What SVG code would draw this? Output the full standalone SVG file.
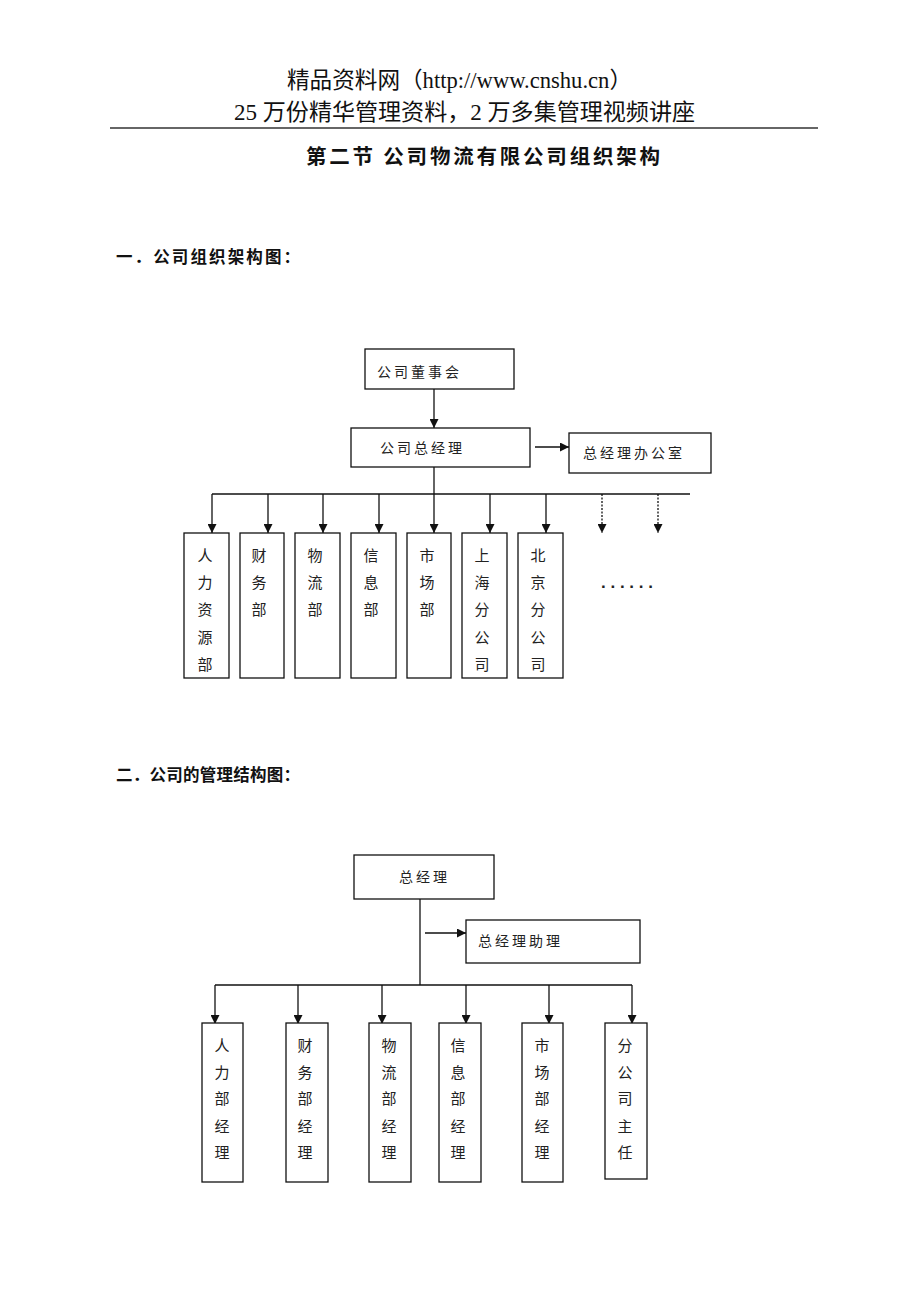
<svg xmlns="http://www.w3.org/2000/svg" width="920" height="1302" viewBox="0 0 920 1302">
<style>
.hdr{font-family:"Liberation Serif","Noto Sans CJK SC",serif;font-size:22.5px;fill:#111;}
.ttl{font-family:"Noto Sans CJK SC",sans-serif;font-size:20.5px;font-weight:bold;fill:#111;}
.sec{font-family:"Noto Sans CJK SC",sans-serif;font-size:16.5px;font-weight:bold;fill:#111;}
.box{fill:#fff;stroke:#111;stroke-width:1.3;}
.lbl{font-family:"Noto Sans CJK SC",sans-serif;font-size:14px;fill:#222;letter-spacing:3px;}
.vt{font-family:"Noto Sans CJK SC",sans-serif;font-size:15px;fill:#222;text-anchor:middle;}
.ln{stroke:#111;stroke-width:1.3;fill:none;}
.ar{stroke:#111;stroke-width:1.3;fill:none;marker-end:url(#ah);}
.dt{stroke:#111;stroke-width:1.3;fill:none;stroke-dasharray:2,1.5;marker-end:url(#ah);}
</style>
<defs>
<marker id="ah" viewBox="0 0 10 10" refX="10" refY="5" markerWidth="9" markerHeight="9" markerUnits="userSpaceOnUse" orient="auto">
<path d="M0,0 L10,5 L0,10 z" fill="#111"/>
</marker>
</defs>
<rect width="920" height="1302" fill="#fff"/>
<g id="header">
<text class="hdr" x="287" y="88" textLength="345" lengthAdjust="spacingAndGlyphs">精品资料网（http://www.cnshu.cn）</text>
<text class="hdr" x="234" y="120" textLength="461" lengthAdjust="spacingAndGlyphs">25 万份精华管理资料，2 万多集管理视频讲座</text>
<line x1="110" y1="128" x2="818" y2="128" stroke="#333" stroke-width="1.6"/>
<text class="ttl" x="306" y="164" textLength="354" lengthAdjust="spacing">第二节 公司物流有限公司组织架构</text>
<text class="sec" x="116" y="263" textLength="184" lengthAdjust="spacing">一．公司组织架构图：</text>
<text class="sec" x="116" y="781" textLength="184" lengthAdjust="spacing">二．公司的管理结构图：</text>
</g>
<g id="connectors">
<line class="ar" x1="434" y1="389" x2="434" y2="428"/>
<line class="ar" x1="535" y1="447" x2="569" y2="447"/>
<line class="ln" x1="434" y1="467" x2="434" y2="494"/>
<line class="ln" x1="212" y1="494" x2="690" y2="494"/>
<line class="ar" x1="212" y1="494" x2="212" y2="533"/>
<line class="ar" x1="268" y1="494" x2="268" y2="533"/>
<line class="ar" x1="323" y1="494" x2="323" y2="533"/>
<line class="ar" x1="379" y1="494" x2="379" y2="533"/>
<line class="ar" x1="434" y1="494" x2="434" y2="533"/>
<line class="ar" x1="490" y1="494" x2="490" y2="533"/>
<line class="ar" x1="546" y1="494" x2="546" y2="533"/>
<line class="dt" x1="602" y1="494" x2="602" y2="533"/>
<line class="dt" x1="658" y1="494" x2="658" y2="533"/>
<line class="ln" x1="420" y1="899" x2="420" y2="985"/>
<line class="ar" x1="425" y1="933" x2="466" y2="933"/>
<line class="ln" x1="215" y1="985" x2="632" y2="985"/>
<line class="ar" x1="215" y1="985" x2="215" y2="1024"/>
<line class="ar" x1="298" y1="985" x2="298" y2="1024"/>
<line class="ar" x1="382" y1="985" x2="382" y2="1024"/>
<line class="ar" x1="466" y1="985" x2="466" y2="1024"/>
<line class="ar" x1="549" y1="985" x2="549" y2="1024"/>
<line class="ar" x1="632" y1="985" x2="632" y2="1024"/>
</g>
<g id="n-board"><rect class="box" x="365" y="349" width="149" height="40"/><text class="lbl" x="377" y="377">公司董事会</text></g>
<g id="n-gm"><rect class="box" x="351" y="428" width="179" height="39"/><text class="lbl" x="380" y="453">公司总经理</text></g>
<g id="n-office"><rect class="box" x="569" y="433" width="142" height="40"/><text class="lbl" x="583" y="458">总经理办公室</text></g>
<g id="n-hr"><rect class="box" x="184" y="533" width="45" height="145"/><text class="vt"><tspan x="205" y="561">人</tspan><tspan x="205" y="588">力</tspan><tspan x="205" y="615">资</tspan><tspan x="205" y="643">源</tspan><tspan x="205" y="670">部</tspan></text></g>
<g id="n-fin"><rect class="box" x="240" y="533" width="44" height="145"/><text class="vt"><tspan x="259" y="561">财</tspan><tspan x="259" y="588">务</tspan><tspan x="259" y="615">部</tspan></text></g>
<g id="n-log"><rect class="box" x="295" y="533" width="45" height="145"/><text class="vt"><tspan x="315" y="561">物</tspan><tspan x="315" y="588">流</tspan><tspan x="315" y="615">部</tspan></text></g>
<g id="n-info"><rect class="box" x="351" y="533" width="45" height="145"/><text class="vt"><tspan x="371" y="561">信</tspan><tspan x="371" y="588">息</tspan><tspan x="371" y="615">部</tspan></text></g>
<g id="n-mkt"><rect class="box" x="407" y="533" width="44" height="145"/><text class="vt"><tspan x="427" y="561">市</tspan><tspan x="427" y="588">场</tspan><tspan x="427" y="615">部</tspan></text></g>
<g id="n-sh"><rect class="box" x="462" y="533" width="45" height="145"/><text class="vt"><tspan x="482" y="561">上</tspan><tspan x="482" y="588">海</tspan><tspan x="482" y="615">分</tspan><tspan x="482" y="643">公</tspan><tspan x="482" y="670">司</tspan></text></g>
<g id="n-bj"><rect class="box" x="518" y="533" width="45" height="145"/><text class="vt"><tspan x="538" y="561">北</tspan><tspan x="538" y="588">京</tspan><tspan x="538" y="615">分</tspan><tspan x="538" y="643">公</tspan><tspan x="538" y="670">司</tspan></text></g>
<g id="n-more"><text x="601" y="588" font-family="Liberation Sans, sans-serif" font-size="17" font-weight="bold" fill="#222" textLength="52" lengthAdjust="spacing">......</text></g>
<g id="m-gm"><rect class="box" x="354" y="855" width="140" height="44"/><text class="lbl" x="399" y="882">总经理</text></g>
<g id="m-asst"><rect class="box" x="466" y="920" width="174" height="43"/><text class="lbl" x="478" y="946">总经理助理</text></g>
<g id="m-hr"><rect class="box" x="202" y="1023" width="41" height="159"/><text class="vt"><tspan x="222" y="1051">人</tspan><tspan x="222" y="1078">力</tspan><tspan x="222" y="1104">部</tspan><tspan x="222" y="1132">经</tspan><tspan x="222" y="1158">理</tspan></text></g>
<g id="m-fin"><rect class="box" x="286" y="1023" width="42" height="159"/><text class="vt"><tspan x="305" y="1051">财</tspan><tspan x="305" y="1078">务</tspan><tspan x="305" y="1104">部</tspan><tspan x="305" y="1132">经</tspan><tspan x="305" y="1158">理</tspan></text></g>
<g id="m-log"><rect class="box" x="369" y="1023" width="42" height="159"/><text class="vt"><tspan x="389" y="1051">物</tspan><tspan x="389" y="1078">流</tspan><tspan x="389" y="1104">部</tspan><tspan x="389" y="1132">经</tspan><tspan x="389" y="1158">理</tspan></text></g>
<g id="m-info"><rect class="box" x="439" y="1023" width="42" height="159"/><text class="vt"><tspan x="458" y="1051">信</tspan><tspan x="458" y="1078">息</tspan><tspan x="458" y="1104">部</tspan><tspan x="458" y="1132">经</tspan><tspan x="458" y="1158">理</tspan></text></g>
<g id="m-mkt"><rect class="box" x="522" y="1023" width="41" height="159"/><text class="vt"><tspan x="542" y="1051">市</tspan><tspan x="542" y="1078">场</tspan><tspan x="542" y="1104">部</tspan><tspan x="542" y="1132">经</tspan><tspan x="542" y="1158">理</tspan></text></g>
<g id="m-br"><rect class="box" x="605" y="1023" width="42" height="156"/><text class="vt"><tspan x="625" y="1051">分</tspan><tspan x="625" y="1078">公</tspan><tspan x="625" y="1104">司</tspan><tspan x="625" y="1132">主</tspan><tspan x="625" y="1158">任</tspan></text></g>
</svg>
